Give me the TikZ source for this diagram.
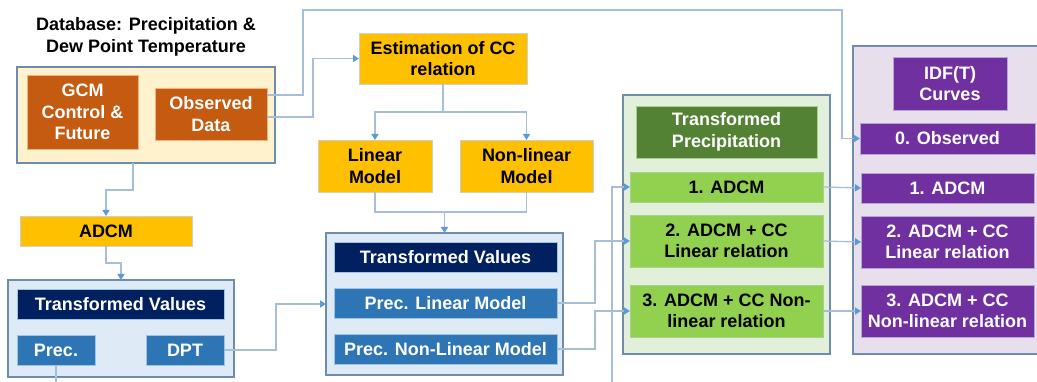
\documentclass[tikz,border=0pt]{standalone}
\usepackage{fontspec}
\setmainfont{Liberation Sans}
\usetikzlibrary{arrows.meta}
\definecolor{framec}{RGB}{112,140,172}
\definecolor{linec}{RGB}{166,190,216}
\definecolor{tipc}{RGB}{91,155,213}
\definecolor{dbfill}{RGB}{255,242,204}
\definecolor{orangec}{RGB}{197,90,17}
\definecolor{orangeb}{RGB}{244,177,131}
\definecolor{amberc}{RGB}{255,192,0}
\definecolor{amberb}{RGB}{208,206,206}
\definecolor{navyc}{RGB}{0,32,96}
\definecolor{bluec}{RGB}{46,117,182}
\definecolor{blueb}{RGB}{157,195,230}
\definecolor{tvfill}{RGB}{222,235,247}
\definecolor{gfill}{RGB}{226,239,218}
\definecolor{dgreenc}{RGB}{84,130,53}
\definecolor{lgreenc}{RGB}{146,208,80}
\definecolor{lgreenb}{RGB}{169,209,142}
\definecolor{pfill}{RGB}{231,224,236}
\definecolor{purplec}{RGB}{112,48,160}
\definecolor{purpleb}{RGB}{180,167,214}
\tikzset{
  txt/.style={font=\bfseries\fontsize{18}{21.5}\selectfont, align=center, inner sep=0pt, outer sep=0pt},
  frame/.style={draw=framec, line width=1.4pt, inner sep=0pt, outer sep=0pt},
  orangebox/.style={txt, fill=orangec, draw=orangeb, line width=0.8pt, text=white},
  amberbox/.style={txt, fill=amberc, draw=amberb, line width=0.8pt, text=black},
  navybox/.style={txt, fill=navyc, draw=blueb, line width=0.8pt, text=white},
  bluebox/.style={txt, fill=bluec, draw=blueb, line width=0.8pt, text=white},
  dgreenbox/.style={txt, fill=dgreenc, draw=lgreenb, line width=0.8pt, text=white},
  lgreenbox/.style={txt, fill=lgreenc, draw=lgreenb, line width=0.8pt, text=black},
  purplebox/.style={txt, fill=purplec, draw=purpleb, line width=0.8pt, text=white},
  flow/.style={draw=linec, line width=1.3pt, -{Triangle[width=7pt,length=6pt,color=tipc]}},
  line/.style={draw=linec, line width=1.3pt}
}
\begin{document}
\begin{tikzpicture}[x=1pt, y=-1pt]
  \useasboundingbox (0,0) rectangle (1037,382);
  \clip (0,0) rectangle (1037,382);
  % containers
  \path
    (146,115) node[frame, fill=dbfill, minimum width=258pt, minimum height=96pt] (db){}
    (121,328.5) node[frame, fill=tvfill, minimum width=226pt, minimum height=97pt] (tvA){}
    (444.5,304) node[frame, fill=tvfill, minimum width=237pt, minimum height=142pt] (tvB){}
    (726.5,224.5) node[frame, fill=gfill, minimum width=207pt, minimum height=259pt] (tp){}
    (950,200) node[frame, fill=pfill, minimum width=194pt, minimum height=308pt] (idfbox){};
  % boxes
  \path
    (146,37) node[txt] (title){Database: Precipitation \&\\Dew Point Temperature}
    (82.5,112) node[orangebox, minimum width=111pt, minimum height=74pt] (gcm){GCM\\Control \&\\Future}
    (211,114) node[orangebox, minimum width=112pt, minimum height=52pt] (obs){Observed\\Data}
    (443,58.5) node[amberbox, minimum width=168pt, minimum height=51pt] (est){Estimation of CC\\relation}
    (375,166) node[amberbox, minimum width=114pt, minimum height=52pt] (lin){Linear\\Model}
    (526.5,166) node[amberbox, minimum width=133pt, minimum height=52pt] (nonlin){Non-linear\\Model}
    (106,231) node[amberbox, minimum width=172pt, minimum height=30pt] (adcm){ADCM}
    (120.5,304) node[navybox, minimum width=207pt, minimum height=30pt] (tvAt){Transformed Values}
    (56,350) node[bluebox, minimum width=78pt, minimum height=30pt] (prec){Prec.}
    (185,350) node[bluebox, minimum width=78pt, minimum height=30pt] (dpt){DPT}
    (445.5,257) node[navybox, minimum width=223pt, minimum height=30pt] (tvBt){Transformed Values}
    (445.5,303) node[bluebox, minimum width=223pt, minimum height=30pt] (plin){Prec. Linear Model}
    (445.5,349) node[bluebox, minimum width=223pt, minimum height=30pt] (pnl){Prec. Non-Linear Model}
    (726.5,132) node[dgreenbox, minimum width=181pt, minimum height=52pt] (tpt){Transformed\\Precipitation}
    (726.5,187) node[lgreenbox, minimum width=193pt, minimum height=30pt] (g1){1. ADCM}
    (726.5,241) node[lgreenbox, minimum width=193pt, minimum height=52pt] (g2){2. ADCM + CC\\Linear relation}
    (726.5,311) node[lgreenbox, minimum width=193pt, minimum height=52pt] (g3){3. ADCM + CC Non-\\linear relation}
    (950,83.5) node[purplebox, minimum width=114pt, minimum height=53pt] (idf){IDF(T)\\Curves}
    (947.5,138.5) node[purplebox, minimum width=175pt, minimum height=31pt] (p0){0. Observed}
    (947.5,188) node[purplebox, minimum width=173pt, minimum height=30pt] (p1){1. ADCM}
    (947.5,242) node[purplebox, minimum width=173pt, minimum height=52pt] (p2){2. ADCM + CC\\Linear relation}
    (947.5,311) node[purplebox, minimum width=173pt, minimum height=52pt] (p3){3. ADCM + CC\\Non-linear relation};
  % connectors
  \begin{scope}
    \draw[flow] ([yshift=19pt]obs.east) -| (303,10) -- (842,10) |- (p0.west);
    \draw[flow] ([yshift=-3pt]obs.east) -| ([xshift=-46pt]est.west) -- (est.west);
    \draw[flow] (est.south) -- ++(0,28) -| (lin.north);
    \draw[flow] (est.south) -- ++(0,28) -| (nonlin.north);
    \draw[line] (lin.south) -- ++(0,20) -| (nonlin.south);
    \draw[flow] (444.5,212) -- (tvB.north);
    \draw[flow] ([xshift=-13pt]db.south) -- ++(0,27) -| (adcm.north);
    \draw[flow] (adcm.south) -- ++(0,17) -| (tvA.north);
    \draw[flow] (dpt.east) -| ([xshift=-50pt]tvB.west) -- (tvB.west);
    \draw[flow] (plin.east) -| ([xshift=-35pt]g2.west) -- (g2.west);
    \draw[flow] (pnl.east) -| ([xshift=-35pt]g3.west) -- (g3.west);
    \draw[flow] (prec.south) -- ++(0,40) -| ([xshift=-18pt]g1.west) -- (g1.west);
    \draw[flow] (g1.east) -- (p1.west);
    \draw[flow] (g2.east) -- (p2.west);
    \draw[flow] (g3.east) -- (p3.west);
  \end{scope}
\end{tikzpicture}
\end{document}
